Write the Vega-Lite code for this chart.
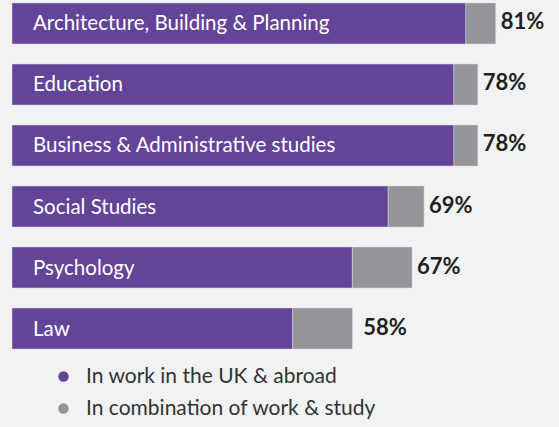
{
  "$schema": "https://vega.github.io/schema/vega-lite/v6.json",
  "width": 547,
  "height": 346,
  "autosize": {"type": "none"},
  "padding": {"left": 12, "top": 3, "right": 0, "bottom": 78},
  "background": "#f1f2f4",
  "config": {
    "view": {"stroke": null},
    "font": "Lato"
  },
  "datasets": {
    "bars": [
      {"subject": "Architecture, Building & Planning", "series": "In work in the UK & abroad", "value": 76, "order": 1},
      {"subject": "Architecture, Building & Planning", "series": "In combination of work & study", "value": 5, "order": 2},
      {"subject": "Education", "series": "In work in the UK & abroad", "value": 74, "order": 1},
      {"subject": "Education", "series": "In combination of work & study", "value": 4, "order": 2},
      {"subject": "Business & Administrative studies", "series": "In work in the UK & abroad", "value": 74, "order": 1},
      {"subject": "Business & Administrative studies", "series": "In combination of work & study", "value": 4, "order": 2},
      {"subject": "Social Studies", "series": "In work in the UK & abroad", "value": 63, "order": 1},
      {"subject": "Social Studies", "series": "In combination of work & study", "value": 6, "order": 2},
      {"subject": "Psychology", "series": "In work in the UK & abroad", "value": 57, "order": 1},
      {"subject": "Psychology", "series": "In combination of work & study", "value": 10, "order": 2},
      {"subject": "Law", "series": "In work in the UK & abroad", "value": 47, "order": 1},
      {"subject": "Law", "series": "In combination of work & study", "value": 10, "order": 2}
    ],
    "totals": [
      {"subject": "Architecture, Building & Planning", "total": 81, "label": "81%"},
      {"subject": "Education", "total": 78, "label": "78%"},
      {"subject": "Business & Administrative studies", "total": 78, "label": "78%"},
      {"subject": "Social Studies", "total": 69, "label": "69%"},
      {"subject": "Psychology", "total": 67, "label": "67%"},
      {"subject": "Law", "total": 58, "label": "58%"}
    ]
  },
  "encoding": {
    "y": {
      "field": "subject",
      "type": "nominal",
      "sort": ["Architecture, Building & Planning", "Education", "Business & Administrative studies", "Social Studies", "Psychology", "Law"],
      "scale": {"paddingInner": 0.328, "paddingOuter": 0},
      "axis": null
    }
  },
  "layer": [
    {
      "data": {"name": "bars"},
      "mark": {"type": "bar", "stroke": "#d9d6e3", "strokeWidth": 0.5},
      "encoding": {
        "x": {"field": "value", "type": "quantitative", "stack": "zero", "scale": {"domain": [0, 91.6], "nice": false, "zero": true}, "axis": null},
        "order": {"field": "order"},
        "color": {
          "field": "series",
          "type": "nominal",
          "sort": ["In work in the UK & abroad", "In combination of work & study"],
          "scale": {"domain": ["In work in the UK & abroad", "In combination of work & study"], "range": ["#634499", "#939598"]},
          "legend": {
            "title": null,
            "orient": "none",
            "legendX": 41,
            "legendY": 363,
            "direction": "vertical",
            "symbolType": "circle",
            "symbolSize": 110,
            "symbolStrokeWidth": 0,
            "labelFontSize": 21,
            "labelColor": "#333333",
            "labelOffset": 12,
            "rowPadding": 10,
            "labelFont": "Lato",
            "labelLimit": 400
          }
        }
      }
    },
    {
      "data": {"name": "totals"},
      "mark": {"type": "text", "align": "left", "baseline": "middle", "dx": 21, "dy": 1, "color": "#ffffff", "fontSize": 20.5},
      "encoding": {
        "x": {"datum": 0, "type": "quantitative"},
        "text": {"field": "subject"}
      }
    },
    {
      "data": {"name": "totals"},
      "mark": {"type": "text", "align": "left", "baseline": "middle", "dx": 5, "dy": -1, "color": "#231f20", "fontSize": 22, "fontWeight": "bold"},
      "encoding": {
        "x": {"field": "total", "type": "quantitative"},
        "text": {"field": "label"}
      }
    }
  ]
}
